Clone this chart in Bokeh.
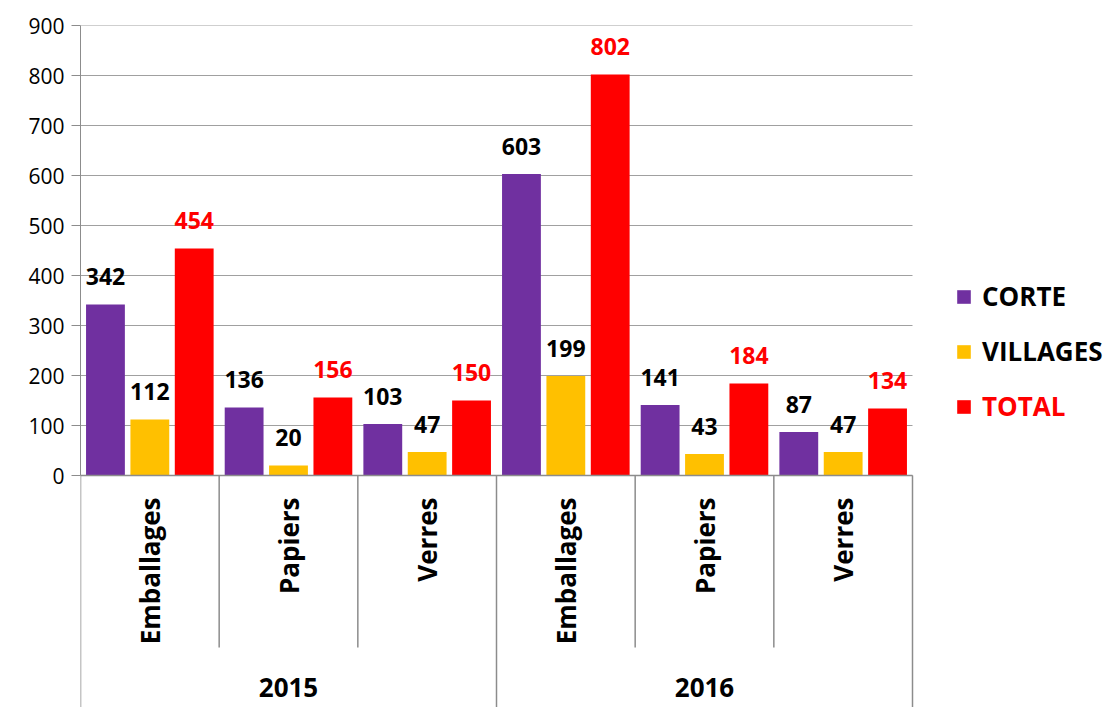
import math
from bokeh.plotting import figure
from bokeh.models import (ColumnDataSource, Range1d, FixedTicker, Legend, LegendItem)
from bokeh.core.properties import value
from bokeh.embed import file_html
from bokeh.resources import INLINE

# ---- data ----
categories = ["Emballages", "Papiers", "Verres", "Emballages", "Papiers", "Verres"]
years = ["2015", "2016"]
corte = [342, 136, 103, 603, 141, 87]
villages = [112, 20, 47, 199, 43, 47]
total = [454, 156, 150, 802, 184, 134]
series_names = ["CORTE", "VILLAGES", "TOTAL"]
y_ticks = [0, 100, 200, 300, 400, 500, 600, 700, 800, 900]

# ---- styles ----
colors = ["#7030A0", "#FFC000", "#FF0000"]
label_colors = ["#000000", "#000000", "#FF0000"]
FONT = "Open Sans"
GRID = "#A0A0A0"
AXIS = "#8C8C8C"
bar_w = 0.28
offsets = [-0.32, 0.0, 0.32]

n = len(categories)
centers = [i + 0.5 for i in range(n)]
per_year = n // len(years)
year_centers = [sum(centers[k * per_year:(k + 1) * per_year]) / per_year for k in range(len(years))]

W, H = 1111, 707
LEFT, TOP = 80, 25
CAT_PX = 832          # pixel width of the category area
x_end = n * (W - LEFT) / CAT_PX
p = figure(width=W, height=H, output_backend="svg", toolbar_location=None,
           x_range=Range1d(0, x_end), y_range=Range1d(-464, 900),
           min_border_left=LEFT, min_border_right=0, min_border_top=TOP, min_border_bottom=0)
p.outline_line_color = None
p.xaxis.visible = False
p.xgrid.visible = False
p.ygrid.visible = False

p.yaxis.ticker = FixedTicker(ticks=y_ticks)
p.yaxis.bounds = (0, 900)
p.yaxis.axis_line_color = AXIS
p.yaxis.major_tick_line_color = AXIS
p.yaxis.major_tick_out = 9
p.yaxis.major_tick_in = 0
p.yaxis.minor_tick_line_color = None
p.yaxis.major_label_text_font = FONT
p.yaxis.major_label_text_font_size = "21px"
p.yaxis.major_label_text_color = "#000000"
p.yaxis.major_label_standoff = 7

# horizontal grid lines over the category area only
p.segment(x0=[0] * len(y_ticks), y0=y_ticks, x1=[n] * len(y_ticks), y1=y_ticks,
          line_color=GRID, line_width=1)

series = [corte, villages, total]
renderers = []
for vals, col, off, lc in zip(series, colors, offsets, label_colors):
    src = ColumnDataSource(dict(x=[c + off for c in centers], top=vals,
                                lab=[str(v) for v in vals]))
    r = p.vbar(x="x", top="top", bottom=0, width=bar_w, source=src,
               fill_color=col, line_color=None)
    renderers.append(r)
    p.text(x="x", y="top", text="lab", source=src, text_align="center",
           text_baseline="alphabetic", y_offset=-28, text_color=lc,
           text_font=value(FONT), text_font_style="bold", text_font_size="23px")

# x axis line at zero
p.segment(x0=[0], y0=[0], x1=[n], y1=[0], line_color=AXIS, line_width=1.5)

# separators below the axis
inner = [i for i in range(1, n) if i % per_year != 0]
outer = [i for i in range(0, n + 1) if i % per_year == 0]
p.segment(x0=inner, y0=[0] * len(inner), x1=inner, y1=[-344] * len(inner),
          line_color=AXIS, line_width=1.5)
p.segment(x0=outer, y0=[0] * len(outer), x1=outer, y1=[-464] * len(outer),
          line_color=AXIS, line_width=1.5)

# category labels
p.text(x=centers, y=[0] * n, text=categories, angle=math.pi / 2,
       text_align="right", text_baseline="middle", y_offset=22,
       text_font=value(FONT), text_font_style="bold", text_font_size="26px",
       text_color="#000000")
# year labels
p.text(x=year_centers, y=[0] * len(years), text=years,
       text_align="center", text_baseline="middle", y_offset=212,
       text_font=value(FONT), text_font_style="bold", text_font_size="26px",
       text_color="#000000")

# legends (one per item, to allow per-item text colour)
legend_centers_px = [299, 354, 409]   # vertical centre of each legend row
ITEM_H = 30
for name, r, lc, cy in zip(series_names, renderers, label_colors, legend_centers_px):
    lg = Legend(items=[LegendItem(label=name, renderers=[r])],
                location=(875, H - cy - ITEM_H // 2),
                padding=0, margin=0, border_line_color=None,
                background_fill_alpha=0, glyph_width=17, glyph_height=17,
                label_standoff=10, label_text_font=FONT, label_text_font_style="bold",
                label_text_font_size="26px", label_text_color=lc,
                label_height=17)
    p.add_layout(lg, "center")

open("out.html", "w").write(file_html(p, INLINE))
